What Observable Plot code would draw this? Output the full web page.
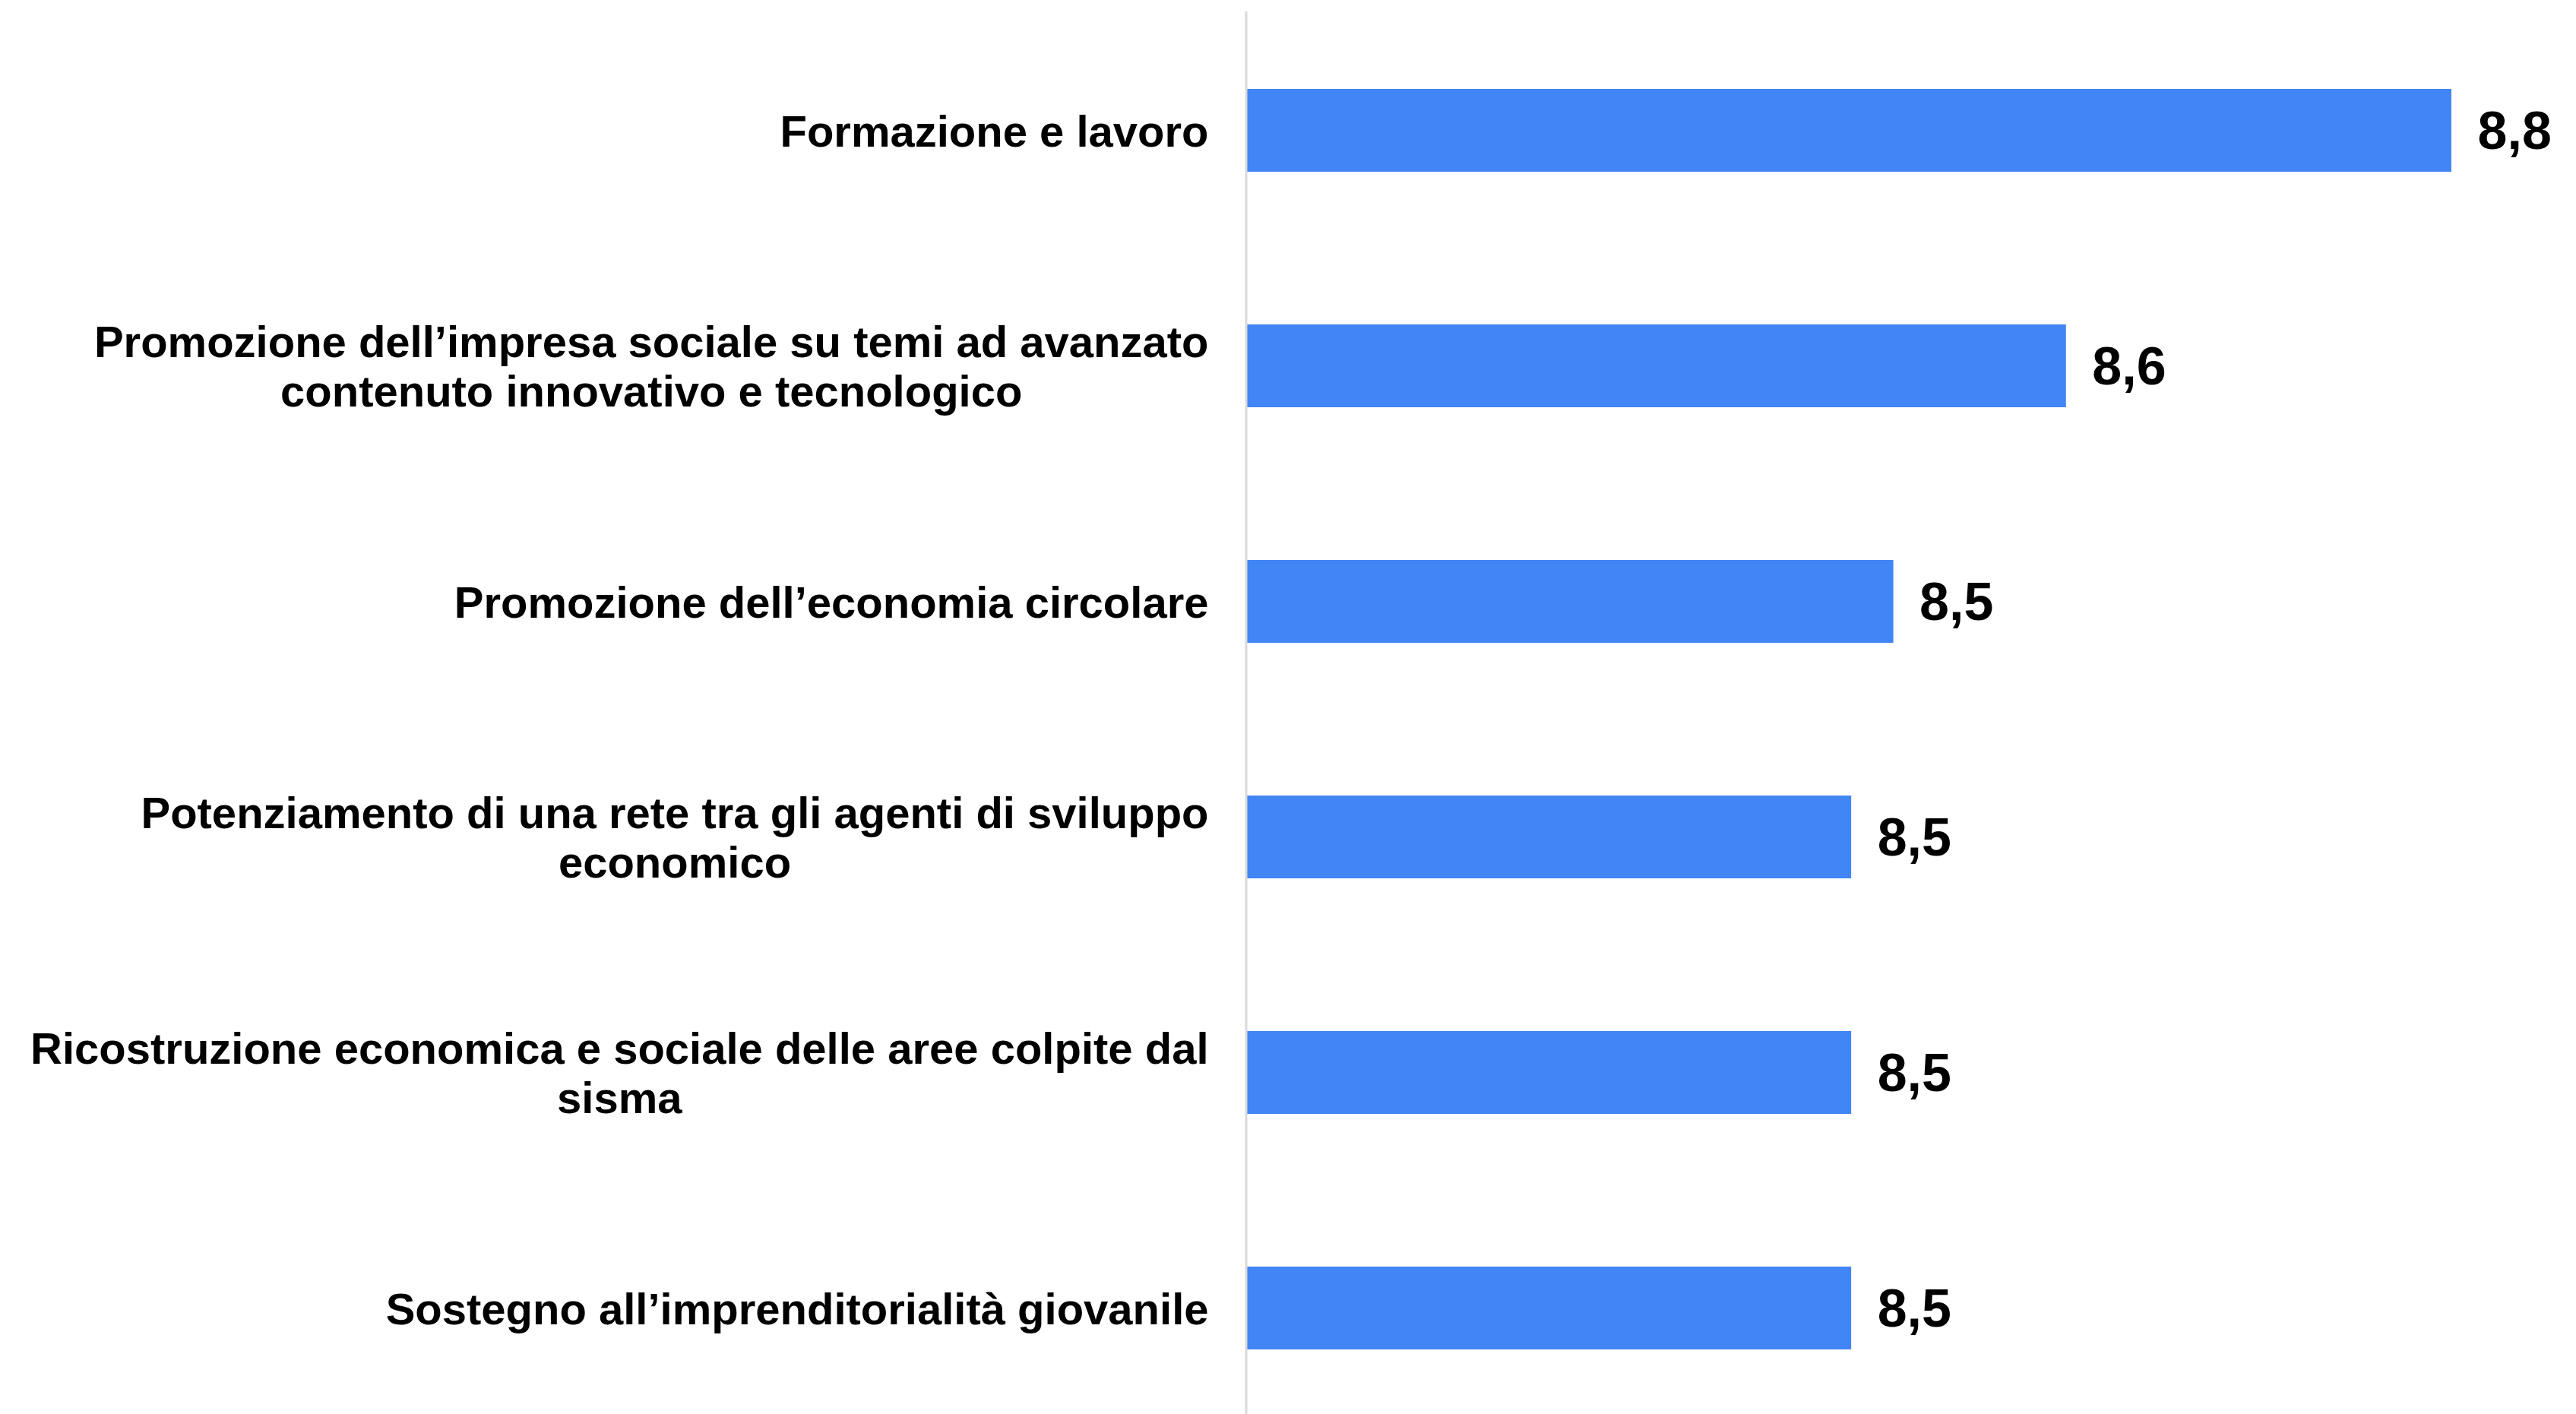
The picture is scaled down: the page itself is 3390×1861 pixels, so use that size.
<!DOCTYPE html>
<html>
<head>
<meta charset="utf-8">
<script src="https://cdn.jsdelivr.net/npm/d3@7"></script>
<script src="https://cdn.jsdelivr.net/npm/@observablehq/plot@0.6"></script>
<style>
  html, body { margin: 0; padding: 0; background: #ffffff; }
  #chart svg { display: block; }
</style>
</head>
<body>
<div id="chart"></div>
<script>
// ---- Data ----
const categories = [
  "Formazione e lavoro",
  "Promozione dell’impresa sociale su temi ad avanzato\ncontenuto innovativo e tecnologico",
  "Promozione dell’economia circolare",
  "Potenziamento di una rete tra gli agenti di sviluppo\neconomico",
  "Ricostruzione economica e sociale delle aree colpite dal\nsisma",
  "Sostegno all’imprenditorialità giovanile"
];
const values = [8.80, 8.608, 8.522, 8.501, 8.501, 8.501];
const axisMin = 8.2;
const axisMax = 8.8;

const data = categories.map((c, i) => ({cat: c, value: values[i]}));

// ---- Style ----
const FONT = "'Liberation Sans', Arial, sans-serif";
const labelSize = 58;
const valueSize = 70;
const labelGap = 51;

// measure label widths so multi-line labels are centred as a block, right-aligned to the axis
const canvas = document.createElement("canvas");
const ctx = canvas.getContext("2d");
ctx.font = `bold ${labelSize}px 'Liberation Sans', Arial, sans-serif`;
const blockWidth = (s) => d3.max(s.split("\n"), line => ctx.measureText(line).width);

const fmt = (v) => d3.format(".1f")(v).replace(".", ",");

const labelMarks = data.map(d => Plot.text([d], {
  x: () => axisMin,
  y: "cat",
  text: "cat",
  textAnchor: "middle",
  lineAnchor: "middle",
  lineHeight: 1.12,
  dx: -(labelGap + blockWidth(d.cat) / 2),
  fontSize: labelSize,
  fontWeight: "bold",
  fill: "#000000"
}));

const chart = Plot.plot({
  width: 3390,
  height: 1861,
  marginLeft: 1641,
  marginRight: 164,
  marginTop: 15,
  marginBottom: 0,
  style: {fontFamily: FONT, background: "#ffffff"},
  x: {domain: [axisMin, axisMax], axis: null},
  y: {domain: categories, axis: null, paddingInner: 0.648, paddingOuter: 0.297, align: 0.545},
  marks: [
    Plot.barX(data, {x1: () => axisMin, x2: "value", y: "cat", fill: "#4285F4"}),
    Plot.ruleX([axisMin], {stroke: "#d9d9d9", strokeWidth: 3, dx: -1.5}),
    Plot.text(data, {
      x: "value", y: "cat", text: d => fmt(d.value),
      textAnchor: "start", lineAnchor: "middle", dx: 34, dy: 2,
      fontSize: valueSize, fontWeight: "bold", fill: "#000000"
    }),
    ...labelMarks
  ]
});

document.getElementById("chart").appendChild(chart);
</script>
</body>
</html>
